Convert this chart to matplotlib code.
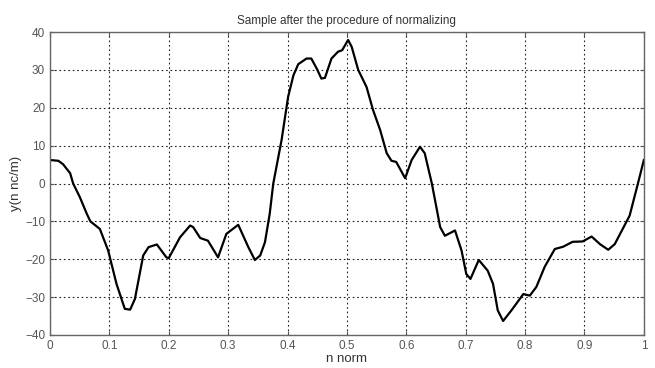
import numpy as np
import matplotlib
matplotlib.use("Agg")
import matplotlib.pyplot as plt

# values
n_norm = [0.0, 0.014, 0.022, 0.034, 0.039, 0.05, 0.062, 0.068, 0.084, 0.098,
          0.112, 0.126, 0.135, 0.143, 0.157, 0.166, 0.18, 0.196, 0.2, 0.219,
          0.236, 0.241, 0.253, 0.266, 0.283, 0.297, 0.317, 0.334, 0.345, 0.354,
          0.362, 0.37, 0.376, 0.39, 0.401, 0.41, 0.418, 0.432, 0.44, 0.449,
          0.457, 0.463, 0.474, 0.485, 0.492, 0.502, 0.508, 0.519, 0.533, 0.544,
          0.556, 0.567, 0.575, 0.583, 0.598, 0.609, 0.623, 0.631, 0.643, 0.657,
          0.665, 0.682, 0.693, 0.701, 0.708, 0.722, 0.737, 0.746, 0.754, 0.763,
          0.777, 0.797, 0.808, 0.819, 0.833, 0.85, 0.864, 0.88, 0.897, 0.912,
          0.926, 0.94, 0.951, 0.976, 0.99, 1.0]
y_val = [6.2, 6.0, 5.1, 2.7, 0.0, -3.5, -8.0, -10.0, -12.0, -17.7,
         -26.5, -33.1, -33.3, -30.5, -19.0, -16.8, -16.1, -19.5, -19.7, -14.2,
         -11.1, -11.5, -14.4, -15.1, -19.5, -13.3, -10.9, -16.8, -20.2, -19.0,
         -15.5, -8.0, 0.0, 11.5, 22.9, 28.6, 31.5, 33.0, 33.0, 30.4,
         27.7, 27.9, 33.0, 34.8, 35.2, 37.9, 36.1, 30.0, 25.5, 19.4,
         14.1, 8.0, 6.0, 5.7, 1.4, 6.2, 9.7, 8.0, 0.0, -11.5,
         -13.8, -12.4, -17.7, -23.9, -25.2, -20.2, -23.0, -26.5, -33.5, -36.3,
         -33.5, -29.2, -29.6, -27.3, -22.0, -17.3, -16.7, -15.4, -15.3, -14.0,
         -16.0, -17.5, -16.0, -8.5, 0.0, 6.2]

x_ticks = [0, 0.1, 0.2, 0.3, 0.4, 0.5, 0.6, 0.7, 0.8, 0.9, 1]
x_labels = ["0", "0.1", "0.2", "0.3", "0.4", "0.5", "0.6", "0.7", "0.8", "0.9", "1"]
y_ticks = [-40, -30, -20, -10, 0, 10, 20, 30, 40]

plt.rcParams["font.family"] = ["Liberation Sans", "DejaVu Sans"]

fig = plt.figure(figsize=(6.55, 3.68), dpi=100)
ax = fig.add_axes([0.0763, 0.0897, 0.9067, 0.8233])

ax.plot(n_norm, y_val, color="black", linewidth=1.6,
        solid_joinstyle="round")

ax.set_xlim(0, 1)
ax.set_ylim(-40, 40)
ax.set_xticks(x_ticks)
ax.set_xticklabels(x_labels)
ax.set_yticks(y_ticks)
ax.grid(True, color="#222222", linestyle=(0, (1.5, 2.5)), linewidth=0.8)
ax.tick_params(direction="in", length=3, labelsize=8.5, colors="#555555",
               top=True, right=True)
for s in ax.spines.values():
    s.set_color("#666666")
    s.set_linewidth(1.0)

ax.set_title("Sample after the procedure of normalizing", fontsize=8.5,
             color="#333333", pad=6)
ax.set_xlabel("n norm", fontsize=9.5, color="#333333", labelpad=1)
ax.set_ylabel("y(n nc/m)", fontsize=9.5, color="#333333", labelpad=2)

fig.savefig("out.png", dpi=100)
